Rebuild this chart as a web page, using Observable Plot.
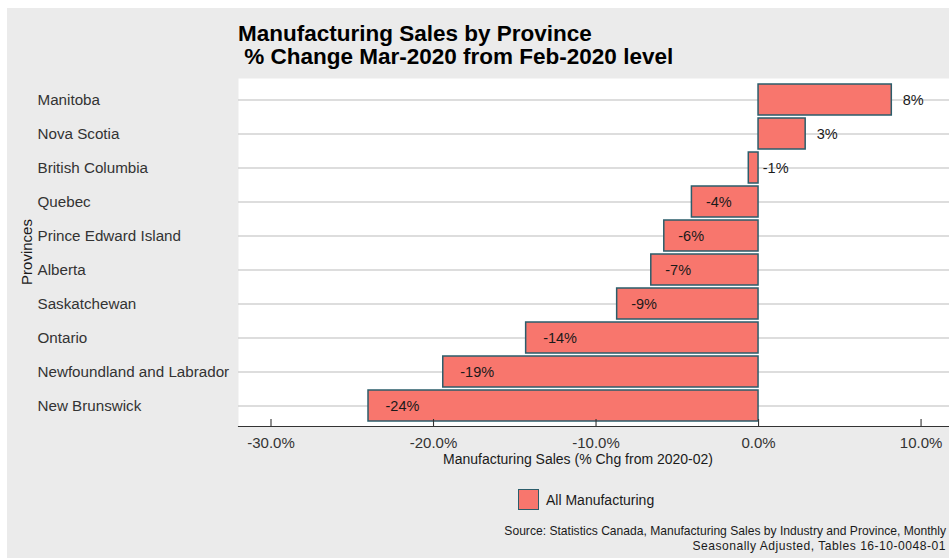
<!DOCTYPE html>
<html>
<head>
<meta charset="utf-8">
<script src="https://cdn.jsdelivr.net/npm/d3@7"></script>
<script src="https://cdn.jsdelivr.net/npm/@observablehq/plot@0.6"></script>
<style>
  html, body { margin: 0; padding: 0; background: #ffffff; overflow: hidden; width: 949px; height: 558px; }
  body { position: relative; font-family: "Liberation Sans", Arial, sans-serif; }
  #bg { position: absolute; left: 7px; top: 8px; width: 942px; height: 550px; background: #ebebeb; }
  .abs { position: absolute; white-space: pre; }
  #title { left: 238px; top: 22px; font-size: 22.5px; line-height: 23.3px; font-weight: bold; color: #000; }
  #xtitle { left: 578px; top: 451px; transform: translateX(-50%); font-size: 14px; line-height: 16px; color: #1a1a1a; }
  #ytitle { left: 26.5px; top: 252px; transform: translate(-50%, -50%) rotate(-90deg); font-size: 15px; line-height: 16px; color: #1a1a1a; }
  #legend { left: 518px; top: 489px; display: flex; align-items: center; font-size: 14px; color: #1a1a1a; }
  #legend .sw { width: 19px; height: 19px; background: #f8766d; border: 1.5px solid #2b5d6b; margin-right: 7px; }
  .cap { font-size: 12.1px; line-height: 14px; color: #1a1a1a; right: 3px; text-align: right; }
  #cap1 { top: 524px; }
  #cap2 { top: 539px; letter-spacing: 0.5px; }
</style>
</head>
<body>
<div id="bg"></div>
<div id="title" class="abs">Manufacturing Sales by Province
 % Change Mar-2020 from Feb-2020 level</div>
<div id="chart"></div>
<div id="xtitle" class="abs">Manufacturing Sales (% Chg from 2020-02)</div>
<div id="ytitle" class="abs">Provinces</div>
<div id="legend" class="abs"><div class="sw"></div><span>All Manufacturing</span></div>
<div id="cap1" class="abs cap">Source: Statistics Canada, Manufacturing Sales by Industry and Province, Monthly</div>
<div id="cap2" class="abs cap">Seasonally Adjusted, Tables 16-10-0048-01</div>
<script>
const provinces = ["Manitoba", "Nova Scotia", "British Columbia", "Quebec", "Prince Edward Island",
  "Alberta", "Saskatchewan", "Ontario", "Newfoundland and Labrador", "New Brunswick"];
const changes = [8.2, 2.9, -0.6, -4.1, -5.8, -6.6, -8.7, -14.3, -19.4, -24.0];
const xTicks = [-30, -20, -10, 0, 10];
const xDomain = [-32, 11.75];

const data = provinces.map((p, i) => ({province: p, value: changes[i]}));
const lbl = d => Math.round(d.value) + "%";

const chart = Plot.plot({
  width: 949,
  height: 400,
  marginTop: 8,
  marginBottom: 44,
  marginLeft: 238,
  marginRight: 0,
  style: {background: "transparent", fontFamily: "'Liberation Sans', Arial, sans-serif", overflow: "visible"},
  x: {domain: xDomain},
  y: {domain: provinces, paddingInner: 0.1, paddingOuter: 0.15},
  marks: [
    Plot.frame({fill: "white"}),
    Plot.ruleY(provinces, {y: d => d, stroke: "#d2d2d2", strokeWidth: 1.6}),
    Plot.barX(data, {x: "value", y: "province", fill: "#f8766d", stroke: "#2b5d6b", strokeWidth: 1.5}),
    Plot.text(data.filter(d => d.value >= 0), {x: "value", y: "province", text: lbl, textAnchor: "start", dx: 11, fontSize: 14.5, fill: "#1a1a1a"}),
    Plot.text(data.filter(d => d.value < 0 && Math.round(d.value) > -10), {x: "value", y: "province", text: lbl, textAnchor: "start", dx: 14, fontSize: 14.5, fill: "#1a1a1a"}),
    Plot.text(data.filter(d => Math.round(d.value) <= -10), {x: "value", y: "province", text: lbl, textAnchor: "start", dx: 17, fontSize: 14.5, fill: "#1a1a1a"}),
    Plot.ruleX(xTicks, {x: d => d, stroke: "#333", strokeWidth: 1.1, insetTop: 341}),
    Plot.frame({anchor: "bottom", stroke: "#333", strokeWidth: 1.1}),
    Plot.axisX({ticks: xTicks, tickFormat: d => d.toFixed(1) + "%", tickSize: 0, tickPadding: 11, fontSize: 15, fill: "#333", label: null}),
    Plot.axisY({tickSize: 0, tickPadding: 0, textAnchor: "start", dx: -201, fontSize: 15.2, fill: "#333", label: null})
  ]
});
chart.style.position = "absolute";
chart.style.left = "0px";
chart.style.top = "70px";
document.getElementById("chart").appendChild(chart);
</script>
</body>
</html>
